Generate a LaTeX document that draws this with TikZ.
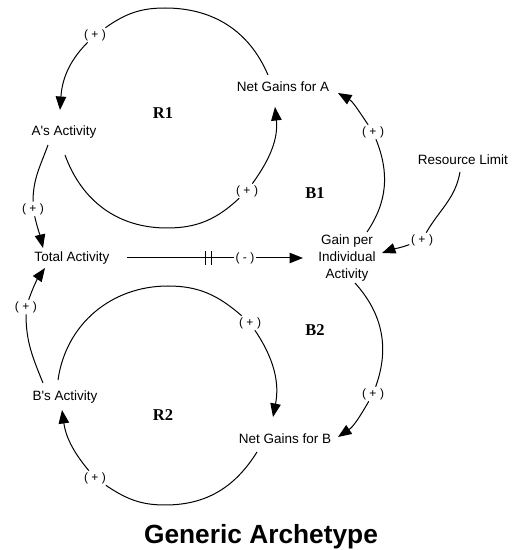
\documentclass[tikz,border=0pt]{standalone}
\usepackage{fontspec}
\setmainfont{Liberation Sans}
\newfontfamily\serifb{Liberation Serif}
\usetikzlibrary{arrows.meta}
\begin{document}
\begin{tikzpicture}[x=1pt,y=1pt,
  lbl/.style={font=\fontsize{13.5}{17}\selectfont, inner sep=0pt, align=center},
  pm/.style={font=\fontsize{12}{14}\selectfont, inner sep=1.5pt},
  looplbl/.style={font=\fontsize{16.5}{18}\selectfont\serifb\bfseries, inner sep=0pt},
  ln/.style={line width=1pt},
  arr/.style={ln, -{Triangle[length=13.5pt,width=10.5pt]}}]
\useasboundingbox (0,0) rectangle (516,550);

% variables
\node[lbl] (as) at (64,418) {A\textquotesingle s Activity};
\node[lbl] (ta) at (72,292) {Total Activity};
\node[lbl] (bs) at (65,153) {B\textquotesingle s Activity};
\node[lbl] (nga) at (283,463) {Net Gains for A};
\node[lbl] (ngb) at (285,111) {Net Gains for B};
\node[lbl] (gain) at (347,292) {Gain per\\Individual\\Activity};
\node[lbl] (rl) at (463,390) {Resource Limit};

% loop labels
\node[looplbl] (r1) at (163,437) {R1};
\node[looplbl] (b1) at (315,357) {B1};
\node[looplbl] (b2) at (315,220) {B2};
\node[looplbl] (r2) at (163,135) {R2};

% title
\node[font=\fontsize{26.3}{30}\selectfont\bfseries, inner sep=0pt] (title) at (261,13) {Generic Archetype};

% polarity labels
\node[pm] (l1) at (95,515) {(\hspace{3.5pt}+\hspace{3.5pt})};
\node[pm] (l2) at (247,359) {(\hspace{3.5pt}+\hspace{3.5pt})};
\node[pm] (l3) at (33,341) {(\hspace{3.5pt}+\hspace{3.5pt})};
\node[pm] (l4) at (373,418) {(\hspace{3.5pt}+\hspace{3.5pt})};
\node[pm] (l5) at (422,310) {(\hspace{3.5pt}+\hspace{3.5pt})};
\node[pm] (lm) at (245,292) {(\hspace{3.5pt}-\hspace{3.5pt})};
\node[pm] (l6) at (26,243) {(\hspace{3.5pt}+\hspace{3.5pt})};
\node[pm] (l7) at (250,227) {(\hspace{3.5pt}+\hspace{3.5pt})};
\node[pm] (l8) at (373,156) {(\hspace{3.5pt}+\hspace{3.5pt})};
\node[pm] (l9) at (95,72) {(\hspace{3.5pt}+\hspace{3.5pt})};

% way points on the loops
\coordinate (t1) at (165,542);
\coordinate (u1) at (167,322);
\coordinate (t2) at (168,264);
\coordinate (u2) at (165,45);

% R1: Net Gains for A -> A's Activity
\draw[ln] ([shift={(-15,12)}]nga.center) to[out=113,in=0] (t1) to[out=180,in=35] (l1);
\draw[arr] (l1) to[out=225,in=86] ([shift={(-4,22)}]as.center);
% R1: A's Activity -> Net Gains for A
\draw[ln] ([shift={(1,-23)}]as.center) to[out=290,in=180] (u1) to[out=0,in=223] (l2);
\draw[arr] (l2) to[out=54,in=276] ([shift={(-8,-20)}]nga.center);
% A's Activity -> Total Activity
\draw[ln] ([shift={(-16,-13)}]as.center) to[out=250,in=90] (l3);
\draw[arr] (l3) to[out=283,in=103] ([shift={(-29,10)}]ta.center);
% Total Activity -> Gain per Individual Activity (delay)
\coordinate (d1) at (205,292);
\coordinate (d2) at (211,292);
\draw[ln] ([xshift=55pt]ta.center) -- (lm);
\draw[ln] ([yshift=7pt]d1) -- ([yshift=-7pt]d1);
\draw[ln] ([yshift=7pt]d2) -- ([yshift=-7pt]d2);
\draw[arr] (lm) -- ([xshift=-44pt]gain.center);
% B1: Gain -> Net Gains for A
\draw[ln] ([shift={(20,26)}]gain.center) to[out=56,in=-68] (l4);
\draw[arr] (l4) to[out=124,in=-30] ([shift={(55,-6)}]nga.center);
% Resource Limit -> Gain
\draw[ln] ([shift={(-3,-12)}]rl.center) to[out=260,in=60] (l5);
\draw[arr] (l5) to[out=200,in=20] ([shift={(35,5)}]gain.center);
% B2: Gain -> Net Gains for B
\draw[ln] ([shift={(8,-25)}]gain.center) to[out=312,in=70] (l8);
\draw[arr] (l8) to[out=240,in=34] ([shift={(53,2)}]ngb.center);
% B's Activity -> Total Activity
\draw[ln] ([shift={(-22,14)}]bs.center) to[out=112,in=-90] (l6);
\draw[arr] (l6) to[out=70,in=235] ([shift={(-27,-10)}]ta.center);
% R2: B's Activity -> Net Gains for B
\draw[ln] ([shift={(-7,17)}]bs.center) to[out=82,in=180] (t2) to[out=0,in=139] (l7);
\draw[arr] (l7) to[out=304,in=79] ([shift={(-12,22)}]ngb.center);
% R2: Net Gains for B -> B's Activity
\draw[ln] ([shift={(-28,-13)}]ngb.center) to[out=238,in=0] (u2) to[out=180,in=-34] (l9);
\draw[arr] (l9) to[out=130,in=-82] ([shift={(-3,-13)}]bs.center);
\end{tikzpicture}
\end{document}
